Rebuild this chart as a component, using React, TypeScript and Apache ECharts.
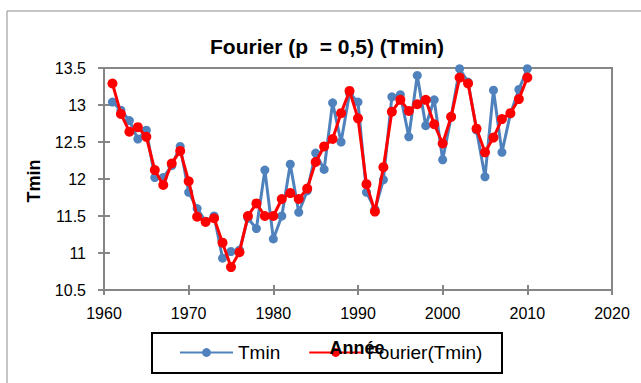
import React, { useEffect, useRef } from "react";
import * as echarts from "echarts";

const years = [
  1961, 1962, 1963, 1964, 1965, 1966, 1967, 1968, 1969, 1970,
  1971, 1972, 1973, 1974, 1975, 1976, 1977, 1978, 1979, 1980,
  1981, 1982, 1983, 1984, 1985, 1986, 1987, 1988, 1989, 1990,
  1991, 1992, 1993, 1994, 1995, 1996, 1997, 1998, 1999, 2000,
  2001, 2002, 2003, 2004, 2005, 2006, 2007, 2008, 2009, 2010,
];

const tmin = [
  13.04, 12.93, 12.79, 12.54, 12.66, 12.02, 12.02, 12.18, 12.44, 11.82,
  11.6, 11.43, 11.5, 10.93, 11.02, 11.04, 11.47, 11.33, 12.12, 11.19,
  11.5, 12.2, 11.55, 11.84, 12.35, 12.13, 13.03, 12.5, 13.16, 13.04,
  11.82, 11.59, 11.99, 13.11, 13.14, 12.57, 13.4, 12.72, 13.07, 12.26,
  12.84, 13.49, 13.31, 12.66, 12.03, 13.2, 12.36, 12.88, 13.21, 13.49,
];

const fourier = [
  13.29, 12.88, 12.64, 12.7, 12.57, 12.12, 11.92, 12.21, 12.38, 11.97,
  11.49, 11.42, 11.47, 11.14, 10.81, 11.01, 11.5, 11.67, 11.5, 11.5,
  11.73, 11.81, 11.73, 11.87, 12.23, 12.44, 12.54, 12.89, 13.19, 12.82,
  11.93, 11.56, 12.16, 12.91, 13.07, 12.92, 13.01, 13.07, 12.74, 12.48,
  12.84, 13.37, 13.29, 12.68, 12.36, 12.56, 12.81, 12.89, 13.08, 13.37,
];

const seriesNames = ["Tmin", "Fourier(Tmin)"];
const titleText = "Fourier (p  = 0,5) (Tmin)";
const xName = "Année";
const yName = "Tmin";

const FONT = "Liberation Sans";
const AXIS = "#868686";

export default function App() {
  const ref = useRef<HTMLDivElement>(null);

  useEffect(() => {
    if (!ref.current) return;
    const chart = echarts.init(ref.current, undefined, { renderer: "svg" });
    const xBase = { type: "value", min: 1960, max: 2020, interval: 10, gridIndex: 0, position: "bottom" };
    const yBase = { type: "value", min: 10.5, max: 13.5, interval: 0.5, gridIndex: 0, position: "left" };
    chart.setOption({
      animation: false,
      backgroundColor: "#ffffff",
      grid: {
        left: 104,
        top: 68,
        width: 508,
        height: 222,
        show: true,
        borderColor: AXIS,
        borderWidth: 2,
        backgroundColor: "transparent",
      },
      xAxis: [
        {
          ...xBase,
          axisLine: { show: true, lineStyle: { color: AXIS, width: 2 } },
          axisTick: { show: true, inside: false, length: 5, lineStyle: { color: AXIS, width: 2 } },
          axisLabel: {
            color: "#000",
            fontFamily: FONT,
            fontSize: 16,
            margin: 15,
            formatter: (v: number) => String(v),
          },
          splitLine: { show: false },
        },
        {
          ...xBase,
          axisLine: { show: false },
          axisTick: { show: true, inside: true, length: 5, lineStyle: { color: AXIS, width: 2 } },
          axisLabel: { show: false },
          splitLine: { show: false },
        },
      ],
      yAxis: [
        {
          ...yBase,
          axisLine: { show: true, lineStyle: { color: AXIS, width: 2 } },
          axisTick: { show: true, inside: false, length: 6, lineStyle: { color: AXIS, width: 2 } },
          axisLabel: {
            color: "#000",
            fontFamily: FONT,
            fontSize: 16,
            margin: 18,
            formatter: (v: number) => String(v),
          },
          splitLine: { show: false },
        },
        {
          ...yBase,
          axisLine: { show: false },
          axisTick: { show: true, inside: true, length: 6, lineStyle: { color: AXIS, width: 2 } },
          axisLabel: { show: false },
          splitLine: { show: false },
        },
      ],
      legend: {
        data: seriesNames,
        left: 179,
        top: 343,
        padding: 0,
        itemWidth: 53,
        itemHeight: 11,
        itemGap: 28,
        textStyle: { color: "#000", fontFamily: FONT, fontSize: 19 },
        z: 5,
      },
      graphic: [
        {
          type: "rect",
          shape: { x: 7, y: 11, width: 720, height: 500 },
          style: { fill: "none", stroke: "#8c8c8c", lineWidth: 1 },
          silent: true,
          z: 0,
        },
        {
          type: "rect",
          shape: { x: 152, y: 333, width: 350, height: 40 },
          style: { fill: "#fff", stroke: "#000", lineWidth: 2 },
          silent: true,
          z: 1,
        },
        {
          type: "text",
          x: 327,
          y: 46,
          style: {
            text: titleText,
            fontFamily: FONT,
            fontWeight: "bold",
            fontSize: 21,
            fill: "#000",
            align: "center",
            verticalAlign: "middle",
          },
          z: 10,
        },
        {
          type: "text",
          x: 357,
          y: 348,
          style: {
            text: xName,
            fontFamily: FONT,
            fontWeight: "bold",
            fontSize: 18,
            fill: "#000",
            align: "center",
            verticalAlign: "middle",
          },
          z: 20,
        },
        {
          type: "text",
          x: 34,
          y: 181,
          rotation: Math.PI / 2,
          style: {
            text: yName,
            fontFamily: FONT,
            fontWeight: "bold",
            fontSize: 18,
            fill: "#000",
            align: "center",
            verticalAlign: "middle",
          },
          z: 10,
        },
      ],
      series: [
        {
          name: seriesNames[0],
          type: "line",
          xAxisIndex: 0,
          yAxisIndex: 0,
          data: years.map((y, i) => [y, tmin[i]]),
          symbol: "circle",
          symbolSize: 9,
          lineStyle: { color: "#4F81BD", width: 3 },
          itemStyle: { color: "#4F81BD" },
          z: 2,
        },
        {
          name: seriesNames[1],
          type: "line",
          xAxisIndex: 0,
          yAxisIndex: 0,
          data: years.map((y, i) => [y, fourier[i]]),
          symbol: "circle",
          symbolSize: 10,
          lineStyle: { color: "#FF0000", width: 3 },
          itemStyle: { color: "#FF0000" },
          z: 3,
        },
      ],
    });
    return () => chart.dispose();
  }, []);

  return (
    <div
      ref={ref}
      style={{ position: "absolute", left: 0, top: 0, width: 641, height: 383 }}
    />
  );
}
